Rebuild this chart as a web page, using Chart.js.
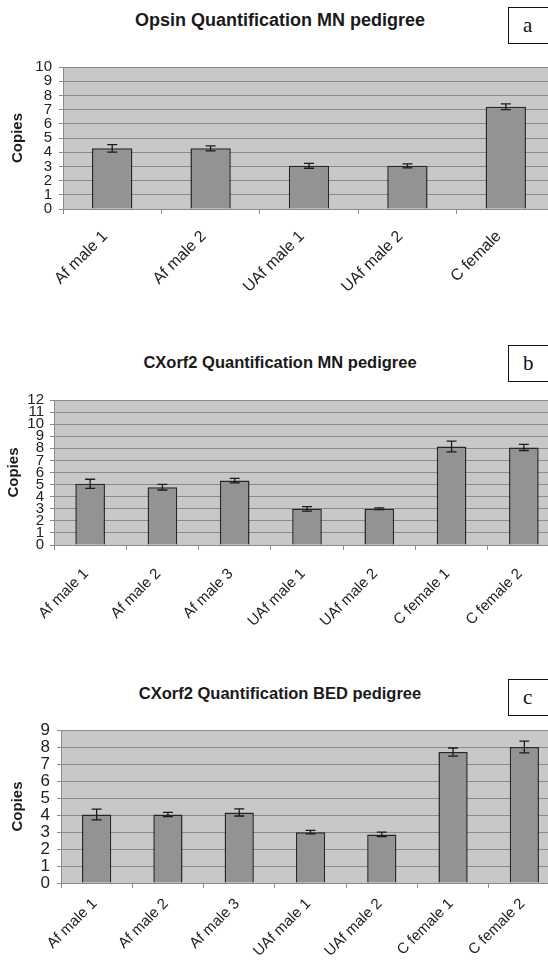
<!DOCTYPE html>
<html>
<head>
<meta charset="utf-8">
<script src="https://cdn.jsdelivr.net/npm/chart.js@4.4.1/dist/chart.umd.min.js"></script>
<style>
  body { margin: 0; width: 548px; height: 963px; overflow: hidden; position: relative; background: #fff; font-family: 'Liberation Sans', Arial, sans-serif; }
  canvas { position: absolute; left: 0; }
  .title { position: absolute; left: 0; width: 560px; text-align: center; font-weight: bold; color: #1a1a1a; white-space: nowrap; }
  .tag { position: absolute; left: 508px; width: 50px; height: 37px; border: 1px solid #111; background: #fff;
         font-family: 'Liberation Serif', 'Times New Roman', serif; font-size: 21px; line-height: 35px; padding-left: 14px; box-sizing: border-box; color: #111; }
</style>
</head>
<body>
<div class="title" style="top:9px;font-size:18px;line-height:22px;">Opsin Quantification MN pedigree</div>
<div class="tag" style="top:7px;">a</div>
<canvas id="chartA" width="555" height="300" style="top:0px;width:555px;height:300px;"></canvas>

<div class="title" style="top:351px;font-size:16.5px;line-height:22px;">CXorf2 Quantification MN pedigree</div>
<div class="tag" style="top:345px;">b</div>
<canvas id="chartB" width="560" height="300" style="top:330px;width:560px;height:300px;"></canvas>

<div class="title" style="top:682px;font-size:16.5px;line-height:22px;">CXorf2 Quantification BED pedigree</div>
<div class="tag" style="top:679px;">c</div>
<canvas id="chartC" width="560" height="303" style="top:660px;width:560px;height:303px;"></canvas>

<script>
// panel a - opsin, MN pedigree
const labelsA = ['Af male 1', 'Af male 2', 'UAf male 1', 'UAf male 2', 'C female'];
const copiesA = [4.27, 4.27, 3.04, 3.04, 7.2];
const errorA = [0.26, 0.17, 0.17, 0.14, 0.2];

// panels b and c - CXorf2
const labelsBC = ['Af male 1', 'Af male 2', 'Af male 3', 'UAf male 1', 'UAf male 2', 'C female 1', 'C female 2'];
const copiesB = [5.06, 4.78, 5.33, 2.99, 3.0, 8.15, 8.07];
const errorB = [0.38, 0.23, 0.19, 0.19, 0.08, 0.44, 0.25];
const copiesC = [4.03, 4.03, 4.15, 2.99, 2.86, 7.7, 8.0];
const errorC = [0.32, 0.13, 0.21, 0.1, 0.13, 0.24, 0.35];

const FONT = "'Liberation Sans', Arial, sans-serif";

// grey plot area like the old Excel charts
const plotBackground = {
    id: 'plotBackground',
    beforeDraw(chart) {
        const { ctx, chartArea: a } = chart;
        ctx.save();
        ctx.fillStyle = '#c8c8c8';
        ctx.fillRect(a.left, a.top, a.right - a.left, a.bottom - a.top);
        ctx.restore();
    }
};

const errorBars = {
    id: 'errorBars',
    afterDatasetsDraw(chart, args, opts) {
        const { ctx } = chart;
        const y = chart.scales.y;
        const values = chart.data.datasets[0].data;
        const errs = opts.errors || [];
        ctx.save();
        ctx.strokeStyle = '#1a1a1a';
        ctx.lineWidth = 1.3;
        chart.getDatasetMeta(0).data.forEach((bar, i) => {
            const hi = y.getPixelForValue(values[i] + errs[i]);
            const lo = y.getPixelForValue(values[i] - errs[i]);
            ctx.beginPath();
            ctx.moveTo(bar.x, hi); ctx.lineTo(bar.x, lo);
            ctx.moveTo(bar.x - 5, hi); ctx.lineTo(bar.x + 5, hi);
            ctx.moveTo(bar.x - 5, lo); ctx.lineTo(bar.x + 5, lo);
            ctx.stroke();
        });
        ctx.restore();
    }
};

function makeChart(id, labels, values, errors, o) {
    const ctx = document.getElementById(id).getContext('2d');
    return new Chart(ctx, {
        type: 'bar',
        data: {
            labels: labels,
            datasets: [{
                data: values,
                backgroundColor: '#939393',
                borderColor: '#262626',
                borderWidth: 1.5,
                categoryPercentage: 1,
                barPercentage: 0.41
            }]
        },
        options: {
            responsive: false,
            animation: false,
            devicePixelRatio: 1,
            layout: { padding: { top: o.padTop, left: 0, right: 0, bottom: 0 } },
            plugins: {
                legend: { display: false },
                tooltip: { enabled: false },
                errorBars: { errors: errors }
            },
            scales: {
                x: {
                    afterFit: (s) => { s.height = o.xHeight; },
                    grid: { drawOnChartArea: false, drawTicks: true, tickLength: 5, color: '#8a8a8a', offset: true },
                    border: { color: '#8a8a8a', width: 1 },
                    ticks: {
                        autoSkip: false, minRotation: 45, maxRotation: 45,
                        padding: o.xPad, labelOffset: o.xShift,
                        color: '#222', font: { family: FONT, size: o.xFont }
                    }
                },
                y: {
                    min: 0,
                    max: o.yMax,
                    afterFit: (s) => { s.width = o.axisLeft; },
                    grid: { color: '#8a8a8a', lineWidth: 1, drawTicks: true, tickLength: 4 },
                    border: { color: '#8a8a8a', width: 1 },
                    ticks: {
                        stepSize: 1, autoSkip: false, padding: o.yPad,
                        color: '#222', font: { family: FONT, size: o.yFont }
                    },
                    title: {
                        display: true,
                        text: 'Copies',
                        color: '#1a1a1a',
                        padding: { top: o.titlePad, bottom: 0 },
                        font: { family: FONT, size: 15, weight: 'bold' }
                    }
                }
            }
        },
        plugins: [plotBackground, errorBars]
    });
}

makeChart('chartA', labelsA, copiesA, errorA,
    { padTop: 67, xHeight: 91, axisLeft: 63, yMax: 10, yFont: 15, yPad: 7,
      xFont: 16, xPad: 13, xShift: -7, titlePad: 9 });
makeChart('chartB', labelsBC, copiesB, errorB,
    { padTop: 70, xHeight: 85, axisLeft: 54, yMax: 12, yFont: 15, yPad: 6,
      xFont: 15, xPad: 15, xShift: -4, titlePad: 5 });
makeChart('chartC', labelsBC, copiesC, errorC,
    { padTop: 70, xHeight: 80, axisLeft: 61, yMax: 9, yFont: 17, yPad: 7,
      xFont: 15, xPad: 7, xShift: -2, titlePad: 9 });
</script>
</body>
</html>
